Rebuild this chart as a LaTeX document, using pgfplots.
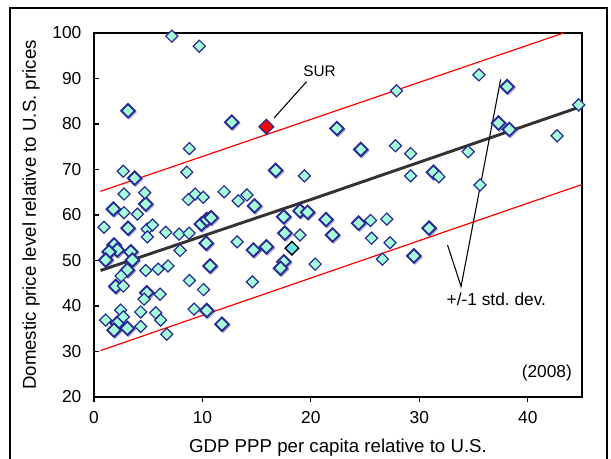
\documentclass[border=0pt]{standalone}
\usepackage{pgfplots}
\pgfplotsset{compat=1.18}
\usepackage{pgfplotstable}
\usepackage{fontspec}
\setmainfont{Liberation Sans}

\definecolor{mint}{RGB}{165,255,215}
\definecolor{navy}{RGB}{40,40,150}
\definecolor{trend}{RGB}{51,51,51}
\definecolor{cyanpt}{RGB}{110,230,240}

% countries drawn with a plain outline
\pgfplotstableread{
x y
7.18 99.3
9.71 97.1
8.8 74.6
27.9 87.3
35.5 90.8
44.7 84.2
42.7 77.4
27.8 75.2
29.2 73.5
34.5 73.9
19.4 68.6
29.2 68.6
31.8 68.4
35.6 66.6
2.7 69.6
8.56 69.4
2.77 64.6
4.68 64.9
8.71 63.4
9.33 64.6
10.07 63.9
12.0 65.1
13.3 63.1
14.1 64.4
2.77 60.5
4.0 60.2
0.92 57.3
4.9 56.9
5.39 57.8
4.92 55.2
6.62 56.2
7.85 55.8
8.77 56.0
7.94 52.2
13.2 54.1
19.0 55.6
20.4 49.2
25.5 58.8
27.0 59.1
25.6 54.9
27.3 53.9
26.6 50.3
4.77 47.8
5.91 48.1
6.83 48.8
8.8 45.6
2.5 46.6
2.71 44.4
6.09 42.6
4.62 41.5
10.1 43.6
14.6 45.3
1.08 36.9
2.46 39.1
2.71 37.6
4.31 38.7
4.31 35.5
5.69 38.5
6.15 36.9
6.71 33.8
9.23 39.3
}\crisp

% countries drawn with a heavy, shadowed outline
\pgfplotstableread{
x y
3.14 82.9
12.7 80.4
22.4 79.0
38.1 88.2
37.3 80.2
38.3 78.8
24.6 74.4
16.75 69.8
31.3 69.4
3.75 68.1
1.79 61.3
4.77 62.4
14.8 62.0
3.14 57.1
9.9 58.0
10.4 59.0
10.8 59.4
17.5 59.6
19.0 60.9
19.7 60.6
21.4 59.0
22.0 55.6
24.4 58.2
30.9 57.1
17.6 56.0
10.35 53.8
14.7 52.3
15.9 53.0
17.5 49.7
17.2 48.3
10.7 48.8
29.5 51.0
1.85 53.4
2.15 52.3
1.39 51.9
1.08 50.1
3.39 51.9
3.54 50.1
3.08 47.9
2.0 44.3
4.86 42.9
10.4 39.0
11.8 36.0
2.15 36.2
1.85 34.7
3.08 35.1
}\shadowed

\begin{document}
\begin{tikzpicture}
\begin{axis}[
    scale only axis,
    width=366pt, height=273pt,
    at={(0,0)}, anchor=south west,
    xmin=0, xmax=45, ymin=20, ymax=100,
    xtick={0,10,...,40}, ytick={20,30,...,100},
    xtick pos=left, ytick pos=left,
    tick align=inside,
    major tick length=4pt,
    major x tick style={yshift=-4pt},
    tick style={line width=0.9pt, black},
    axis line style={line width=1.1pt},
    clip=false,
    /pgf/number format/assume math mode=true,
    tick label style={font=\fontsize{13}{15}\selectfont},
    xticklabel style={yshift=-7.5pt},
    yticklabel style={xshift=-6pt},
    label style={font=\fontsize{14}{16}\selectfont},
    xlabel={GDP PPP per capita relative to U.S.},
    ylabel={Domestic price level relative to U.S. prices},
    xlabel style={at={(axis description cs:0.5,-0.14)}, anchor=center},
    ylabel style={at={(axis description cs:-0.129,0.5)}, anchor=center},
]
\addplot[only marks, mark=square*, mark size=3.9pt,
    mark options={rotate=45, fill=navy, draw=navy, opacity=0.35, yshift=-1.2pt}] table {\shadowed};
\addplot[only marks, mark=square*, mark size=3.6pt,
    mark options={rotate=45, fill=mint, draw=navy, line width=1.4pt}] table {\shadowed};
\addplot[only marks, mark=square*, mark size=3.2pt,
    mark options={rotate=45, fill=mint, draw=navy, line width=0.9pt}] table {\crisp};

% regression line and +/-1 std. dev. band
\addplot[trend, line width=2.2pt] coordinates {(0.6,47.8) (20,63.4) (45,83.9)};
\addplot[red, line width=0.9pt] coordinates {(0.6,65.2) (43.3,100)};
\addplot[red, line width=0.9pt] coordinates {(0.6,30.2) (45,66.7)};

% highlighted countries
\addplot[only marks, mark=square*, mark size=3.6pt,
    mark options={rotate=45, fill=cyanpt, draw=black, line width=1pt}] coordinates {(18.25,52.7)};
\addplot[only marks, mark=square*, mark size=3.9pt,
    mark options={rotate=45, fill=red, draw=navy, line width=1pt}] coordinates {(15.9,79.4)};

\draw[line width=0.8pt] (axis cs:16.6,81.3) -- (axis cs:19.6,89.3);
\node[font=\fontsize{11.5}{13}\selectfont] at (axis cs:20.8,91.7) {SUR};
\draw[line width=0.8pt] (axis cs:32.6,53.4) -- (axis cs:33.85,44.3) -- (axis cs:37.5,89.8);
\node[font=\fontsize{13}{15}\selectfont] at (axis cs:37.1,41.5) {+/-1 std.\ dev.};
\node[anchor=east, font=\fontsize{13}{15}\selectfont] at (axis cs:44.5,25.3) {(2008)};
\end{axis}
\draw[line width=1pt] (-63pt,-60pt) -- (-63pt,291.75pt) -- (384.75pt,291.75pt) -- (384.75pt,-60pt);
\pgfresetboundingbox
\path[use as bounding box] (-70.5pt,-46.5pt) rectangle (387.75pt,297.75pt);
\end{tikzpicture}
\end{document}
